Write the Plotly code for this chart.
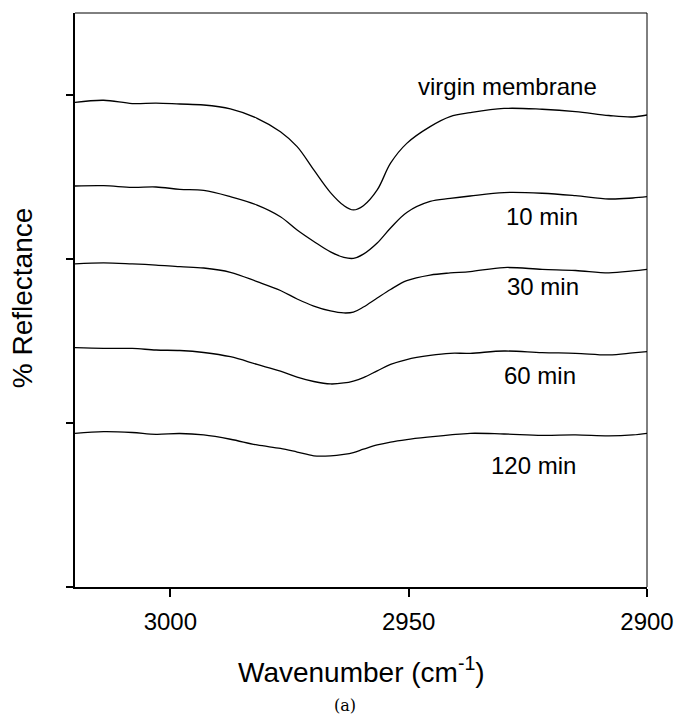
import plotly.graph_objects as go

wavenumber = [3020, 3014, 3008, 3003, 2998, 2993, 2987.4, 2981.8, 2976.9, 2973.4, 2969.9, 2966.4,
              2963.6, 2961.6, 2959.5, 2956.6, 2953.8, 2950.4, 2945.5, 2941.3, 2937.1, 2930,
              2922, 2915, 2908, 2903, 2900]

virgin = [2.955, 2.968, 2.948, 2.951, 2.945, 2.939, 2.915, 2.858, 2.776, 2.685, 2.543, 2.405,
          2.326, 2.299, 2.325, 2.421, 2.584, 2.705, 2.807, 2.868, 2.892, 2.918,
          2.913, 2.899, 2.875, 2.866, 2.878]
min10 = [2.445, 2.447, 2.437, 2.439, 2.425, 2.418, 2.380, 2.329, 2.258, 2.177, 2.107, 2.043,
         2.010, 2.004, 2.030, 2.098, 2.189, 2.284, 2.351, 2.369, 2.384, 2.405,
         2.401, 2.386, 2.366, 2.372, 2.380]
min30 = [1.970, 1.976, 1.970, 1.963, 1.953, 1.945, 1.919, 1.862, 1.808, 1.756, 1.713, 1.683,
         1.671, 1.676, 1.707, 1.762, 1.814, 1.868, 1.902, 1.915, 1.923, 1.948,
         1.937, 1.930, 1.916, 1.927, 1.937]
min60 = [1.459, 1.455, 1.455, 1.445, 1.442, 1.430, 1.404, 1.357, 1.316, 1.280, 1.253, 1.238,
         1.244, 1.256, 1.277, 1.318, 1.357, 1.387, 1.412, 1.425, 1.425, 1.439,
         1.429, 1.425, 1.415, 1.427, 1.435]
min120 = [0.937, 0.947, 0.942, 0.931, 0.936, 0.927, 0.901, 0.866, 0.845, 0.823, 0.800, 0.800,
          0.809, 0.820, 0.840, 0.866, 0.884, 0.899, 0.915, 0.927, 0.937, 0.933,
          0.925, 0.927, 0.921, 0.927, 0.937]

series = [virgin, min10, min30, min60, min120]
labels = ["virgin membrane", "10 min", "30 min", "60 min", "120 min"]
label_x = [2929.3, 2922.0, 2921.8, 2922.4, 2923.9]
label_y = [3.05, 2.262, 1.835, 1.29, 0.738]

x_ticks = [3000, 2950, 2900]
y_ticks = [0, 1, 2, 3]

FONT = "Liberation Sans, Arial, sans-serif"

fig = go.Figure()
for s in series:
    fig.add_trace(go.Scatter(x=wavenumber, y=s, mode="lines",
                             line=dict(color="black", width=1.3, shape="spline", smoothing=1.0),
                             showlegend=False, hoverinfo="skip"))

for t, lx, ly in zip(labels, label_x, label_y):
    fig.add_annotation(x=lx, y=ly, text=t, showarrow=False,
                       font=dict(family=FONT, size=24, color="black"),
                       xanchor="center", yanchor="middle")

fig.add_annotation(xref="paper", yref="paper", x=-0.0917, y=0.504, text="% Reflectance",
                   textangle=-90, showarrow=False, xanchor="center", yanchor="middle",
                   font=dict(family=FONT, size=28, color="black"))
fig.add_annotation(xref="paper", yref="paper", x=0.5, y=-0.1446,
                   text="Wavenumber (cm<sup>-1</sup>)", showarrow=False,
                   xanchor="center", yanchor="middle",
                   font=dict(family=FONT, size=28, color="black"))
fig.add_annotation(xref="paper", yref="paper", x=0.4725, y=-0.2056, text="(a)",
                   showarrow=False, xanchor="center", yanchor="middle",
                   font=dict(family="DejaVu Serif, serif", size=16, color="black"))

# top and right frame lines
fig.add_shape(type="line", xref="paper", yref="paper", x0=0, x1=1, y0=1, y1=1,
              line=dict(color="black", width=1))
fig.add_shape(type="line", xref="paper", yref="paper", x0=1, x1=1, y0=0, y1=1,
              line=dict(color="black", width=1))

fig.update_xaxes(range=[3020, 2900], tickvals=x_ticks, ticktext=[str(v) for v in x_ticks],
                 ticks="outside", ticklen=8, tickwidth=1.5, tickcolor="black",
                 ticklabelstandoff=4,
                 showline=True, linewidth=2, linecolor="black", showgrid=False, zeroline=False,
                 automargin=False,
                 tickfont=dict(family=FONT, size=24, color="black"))
fig.update_yaxes(range=[0, 3.5], tickvals=y_ticks, showticklabels=False,
                 ticks="outside", ticklen=7, tickwidth=1.5, tickcolor="black",
                 showline=True, linewidth=2, linecolor="black", showgrid=False, zeroline=False,
                 automargin=False)

fig.update_layout(template="none", width=676, height=716,
                  margin=dict(l=75, r=29, t=13, b=129, autoexpand=False),
                  plot_bgcolor="white", paper_bgcolor="white")

fig.write_html("out.html")
